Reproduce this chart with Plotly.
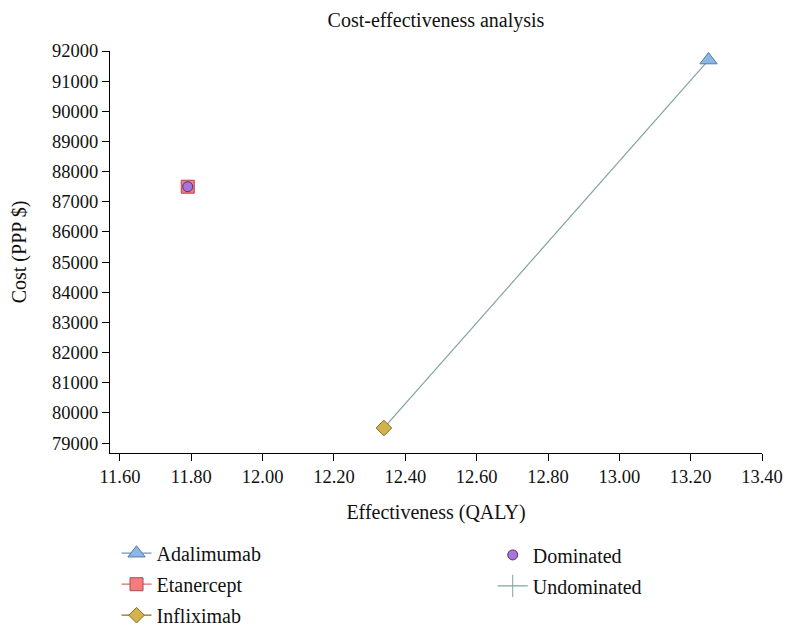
import plotly.graph_objects as go

# Data
treatments = ["Adalimumab", "Etanercept", "Infliximab"]
effectiveness = [13.25, 11.79, 12.34]
cost = [91700, 87500, 79500]
dominated_x = [11.79]
dominated_y = [87500]
undominated_x = [12.34, 13.25]
undominated_y = [79500, 91700]
x_ticks = [11.6, 11.8, 12.0, 12.2, 12.4, 12.6, 12.8, 13.0, 13.2, 13.4]
y_ticks = list(range(79000, 92001, 1000))

FONT = "Liberation Serif"
styles = {
    "Adalimumab": dict(symbol="triangle-up", size=15, color="#8db6e2", line="#4f7eae"),
    "Etanercept": dict(symbol="square", size=13, color="#f47c7c", line="#a94a5a"),
    "Infliximab": dict(symbol="diamond", size=12, color="#d2b24c", line="#8a6d1e"),
}
line_colors = {"Adalimumab": "#6f95bd", "Etanercept": "#d9696e", "Infliximab": "#8a6d1e"}
undom_color = "#7fa3a0"

W, H = 786, 629
fig = go.Figure()

# undominated frontier line (drawn beneath)
fig.add_trace(go.Scatter(x=undominated_x, y=undominated_y, mode="lines",
                         line=dict(color=undom_color, width=1.2),
                         showlegend=False, hoverinfo="skip"))

for i, t in enumerate(treatments):
    s = styles[t]
    fig.add_trace(go.Scatter(
        x=[effectiveness[i]], y=[cost[i]], mode="lines+markers", name=t,
        legend="legend", legendgroup=t,
        line=dict(color=line_colors[t], width=1.2),
        marker=dict(symbol=s["symbol"], size=s["size"], color=s["color"],
                    line=dict(color=s["line"], width=1))))

fig.add_trace(go.Scatter(
    x=dominated_x, y=dominated_y, mode="markers", name="Dominated",
    legend="legend2", legendgroup="Dominated",
    marker=dict(symbol="circle", size=10, color="#a676d9",
                line=dict(color="#5b2d7e", width=1))))

fig.add_trace(go.Scatter(
    x=[None], y=[None], mode="lines+markers", name="Undominated",
    legend="legend2", legendgroup="Undominated",
    line=dict(color=undom_color, width=1.2),
    marker=dict(symbol="line-ns", size=16, color=undom_color,
                line=dict(color=undom_color, width=1))))

legend_common = dict(font=dict(family=FONT, size=20, color="#111"),
                     bgcolor="rgba(0,0,0,0)", tracegroupgap=2,
                     traceorder="grouped", xanchor="left",
                     itemwidth=30)

fig.update_layout(
    width=W, height=H,
    paper_bgcolor="white", plot_bgcolor="white",
    margin=dict(l=110, r=24, t=51, b=176, autoexpand=False),
    title=dict(text="Cost-effectiveness analysis", x=(110 + 762) / 2 / W, xanchor="center",
               y=1 - 20 / H, yanchor="middle",
               font=dict(family=FONT, size=20, color="#111")),
    font=dict(family=FONT, size=18, color="#111"),
    xaxis=dict(range=[11.572, 13.40], tickvals=x_ticks,
               ticktext=[f"{v:.2f}" for v in x_ticks],
               showgrid=False, zeroline=False, showline=True, linecolor="black",
               linewidth=1, ticks="outside", ticklen=7, tickcolor="black",
               tickfont=dict(family=FONT, size=18.5, color="#111"),
               title=dict(text="Effectiveness (QALY)", standoff=18,
                          font=dict(family=FONT, size=20, color="#111"))),
    yaxis=dict(range=[78670, 92000], tickvals=y_ticks,
               ticktext=[str(v) for v in y_ticks],
               showgrid=False, zeroline=False, showline=True, linecolor="black",
               linewidth=1, ticks="outside", ticklen=7, tickcolor="black",
               tickfont=dict(family=FONT, size=18.5, color="#111"),
               title=dict(text="Cost (PPP $)", standoff=20,
                          font=dict(family=FONT, size=20, color="#111"))),
    legend=dict(x=0.010, y=-0.452, yanchor="bottom", **legend_common),
    legend2=dict(x=0.587, y=-0.205, yanchor="top", **legend_common),
)

fig.write_html("out.html", config={"displayModeBar": False},
               post_script="document.body.style.margin='0';document.body.style.overflow='hidden';")
